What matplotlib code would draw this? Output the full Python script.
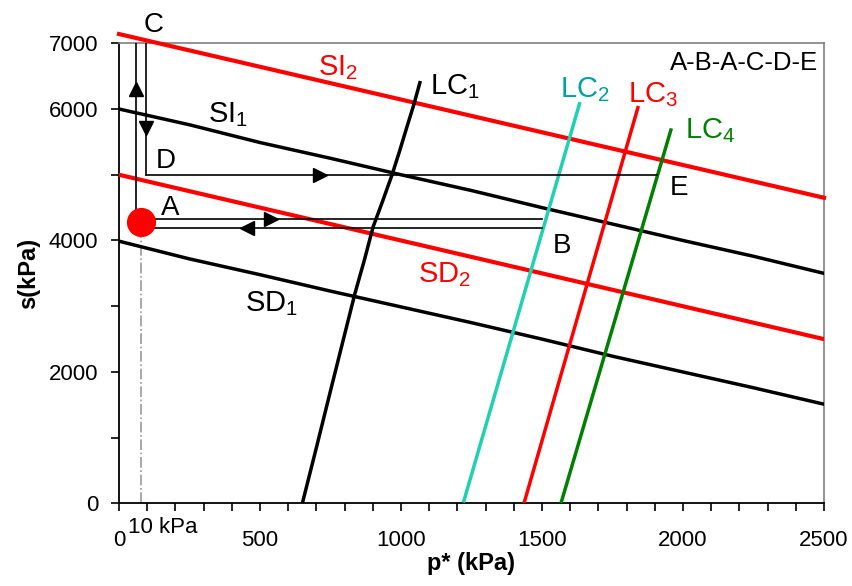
import matplotlib
matplotlib.use("Agg")
import matplotlib.pyplot as plt
from matplotlib.ticker import FixedLocator, MultipleLocator

plt.rcParams['font.family'] = ['Liberation Sans', 'DejaVu Sans']
plt.rcParams['mathtext.fontset'] = 'custom'
plt.rcParams['mathtext.rm'] = 'Liberation Sans'
plt.rcParams['mathtext.it'] = 'Liberation Sans'
plt.rcParams['mathtext.bf'] = 'Liberation Sans:bold'

# ---- data ----
sd1_p = [0, 250, 500, 750, 1000, 1250, 1500, 1750, 2000, 2250, 2500]
sd1_s = [3990, 3720, 3480, 3230, 2990, 2750, 2500, 2240, 2000, 1760, 1510]
si1_p = [0, 250, 500, 750, 1000, 1250, 1500, 1750, 2000, 2250, 2500]
si1_s = [6000, 5760, 5490, 5250, 5000, 4760, 4500, 4250, 4000, 3760, 3500]
sd2_p = [0, 2500]
sd2_s = [5000, 2500]
si2_p = [0, 2500]
si2_s = [7140, 4650]
lc1_p = [650, 700, 748, 793, 837, 870, 901, 935, 968, 995, 1021, 1045, 1067]
lc1_s = [0, 850, 1680, 2450, 3200, 3700, 4206, 4600, 4996, 5360, 5727, 6060, 6400]
lc2_p = [1223, 1633]
lc2_s = [40, 6080]
lc3_p = [1436, 1840]
lc3_s = [0, 6020]
lc4_p = [1567, 1957]
lc4_s = [0, 5680]

point_A = (77, 4277)
path_AB_p = [77, 1500]
path_AB_s = [4322, 4322]
path_BA_p = [1500, 77]
path_BA_s = [4186, 4186]
path_AC_p = [59, 59]
path_AC_s = [4277, 7000]
path_CD_p = [95, 95]
path_CD_s = [7000, 5000]
path_DE_p = [95, 1908]
path_DE_s = [5000, 5000]
ref_p = 77

x_ticks = [0, 500, 1000, 1500, 2000, 2500]
y_ticks = [0, 2000, 4000, 6000, 7000]
y_minor = [1000, 3000, 5000]

# ---- figure ----
fig = plt.figure(figsize=(8.53, 5.86), dpi=100)
ax = fig.add_axes([0.1395, 0.1408, 0.966 - 0.1395, 0.9262 - 0.1408])
ax.set_xlim(0, 2500)
ax.set_ylim(0, 7000)

ax.plot(sd1_p, sd1_s, color='black', lw=2.5, zorder=3)
ax.plot(si1_p, si1_s, color='black', lw=2.5, zorder=3)
ax.plot(sd2_p, sd2_s, color='#ff0000', lw=3, zorder=3)
ax.plot(si2_p, si2_s, color='#ff0000', lw=3, zorder=3, clip_on=False)
ax.plot(lc1_p, lc1_s, color='black', lw=2.5, zorder=3)
ax.plot(lc2_p, lc2_s, color='#1fd1b0', lw=2.5, zorder=3)
ax.plot(lc3_p, lc3_s, color='#ff0000', lw=2.5, zorder=3)
ax.plot(lc4_p, lc4_s, color='#008000', lw=2.5, zorder=3)

# stress path
thin = dict(color='black', lw=1.2, zorder=4)
ax.plot(path_AB_p, path_AB_s, **thin)
ax.plot(path_BA_p, path_BA_s, **thin)
ax.plot(path_AC_p, path_AC_s, **thin)
ax.plot(path_CD_p, path_CD_s, **thin)
ax.plot(path_DE_p, path_DE_s, **thin)

ms = 10
ax.plot([540], [4322], marker='>', color='black', ms=ms, zorder=5)
ax.plot([454], [4186], marker='<', color='black', ms=ms, zorder=5)
ax.plot([59], [6305], marker='^', color='black', ms=ms, zorder=5)
ax.plot([95], [5710], marker='v', color='black', ms=ms, zorder=5)
ax.plot([713], [5000], marker='>', color='black', ms=ms, zorder=5)

ax.plot([ref_p, ref_p], [0, point_A[1]], color='#999999', lw=1.2, ls='-.', zorder=2)
ax.plot([point_A[0]], [point_A[1]], marker='o', color='#ff0000', ms=20, zorder=6, clip_on=False)

# labels
fs = 20
ax.text(124, 7171, 'C', fontsize=fs, ha='center', va='baseline', clip_on=False)
ax.text(167, 5103, 'D', fontsize=fs, ha='center', va='baseline')
ax.text(181, 4388, 'A', fontsize=fs, ha='center', va='baseline')
ax.text(1571, 3810, 'B', fontsize=fs, ha='center', va='baseline')
ax.text(1986, 4692, 'E', fontsize=fs, ha='center', va='baseline')

fl = 21
ax.text(316, 5802, r'SI$_1$', fontsize=fl, ha='left', va='baseline')
ax.text(706, 6517, r'SI$_2$', fontsize=fl, ha='left', va='baseline', color='#ff0000')
ax.text(447, 2928, r'SD$_1$', fontsize=fl, ha='left', va='baseline')
ax.text(1060, 3369, r'SD$_2$', fontsize=fl, ha='left', va='baseline', color='#ff0000')
ax.text(1103, 6229, r'LC$_1$', fontsize=fl, ha='left', va='baseline')
ax.text(1564, 6183, r'LC$_2$', fontsize=fl, ha='left', va='baseline', color='#00a0a0')
ax.text(1805, 6107, r'LC$_3$', fontsize=fl, ha='left', va='baseline', color='#ff0000')
ax.text(2007, 5559, r'LC$_4$', fontsize=fl, ha='left', va='baseline', color='#008000')
ax.text(2479, 6594, 'A-B-A-C-D-E', fontsize=18.5, ha='right', va='baseline')
ax.text(32, -449, '10 kPa', fontsize=16, ha='left', va='baseline', clip_on=False)

# axes styling
ax.xaxis.set_major_locator(FixedLocator(x_ticks))
ax.xaxis.set_minor_locator(MultipleLocator(100))
ax.yaxis.set_major_locator(FixedLocator(y_ticks))
ax.yaxis.set_minor_locator(FixedLocator(y_minor))
ax.tick_params(axis='both', which='both', direction='out', length=6, width=1.2, colors='black', labelsize=16)
ax.tick_params(axis='x', which='major', pad=13)
ax.tick_params(axis='y', which='major', pad=9)
for side in ['left', 'bottom']:
    ax.spines[side].set_color('black')
    ax.spines[side].set_linewidth(1.3)
for side in ['top', 'right']:
    ax.spines[side].set_color('#808080')
    ax.spines[side].set_linewidth(1.2)

ax.set_xlabel('p* (kPa)', fontsize=17, fontweight='bold', labelpad=1)
ax.set_ylabel('s(kPa)', fontsize=17, fontweight='bold', labelpad=6)

fig.savefig('out.png', dpi=100)
